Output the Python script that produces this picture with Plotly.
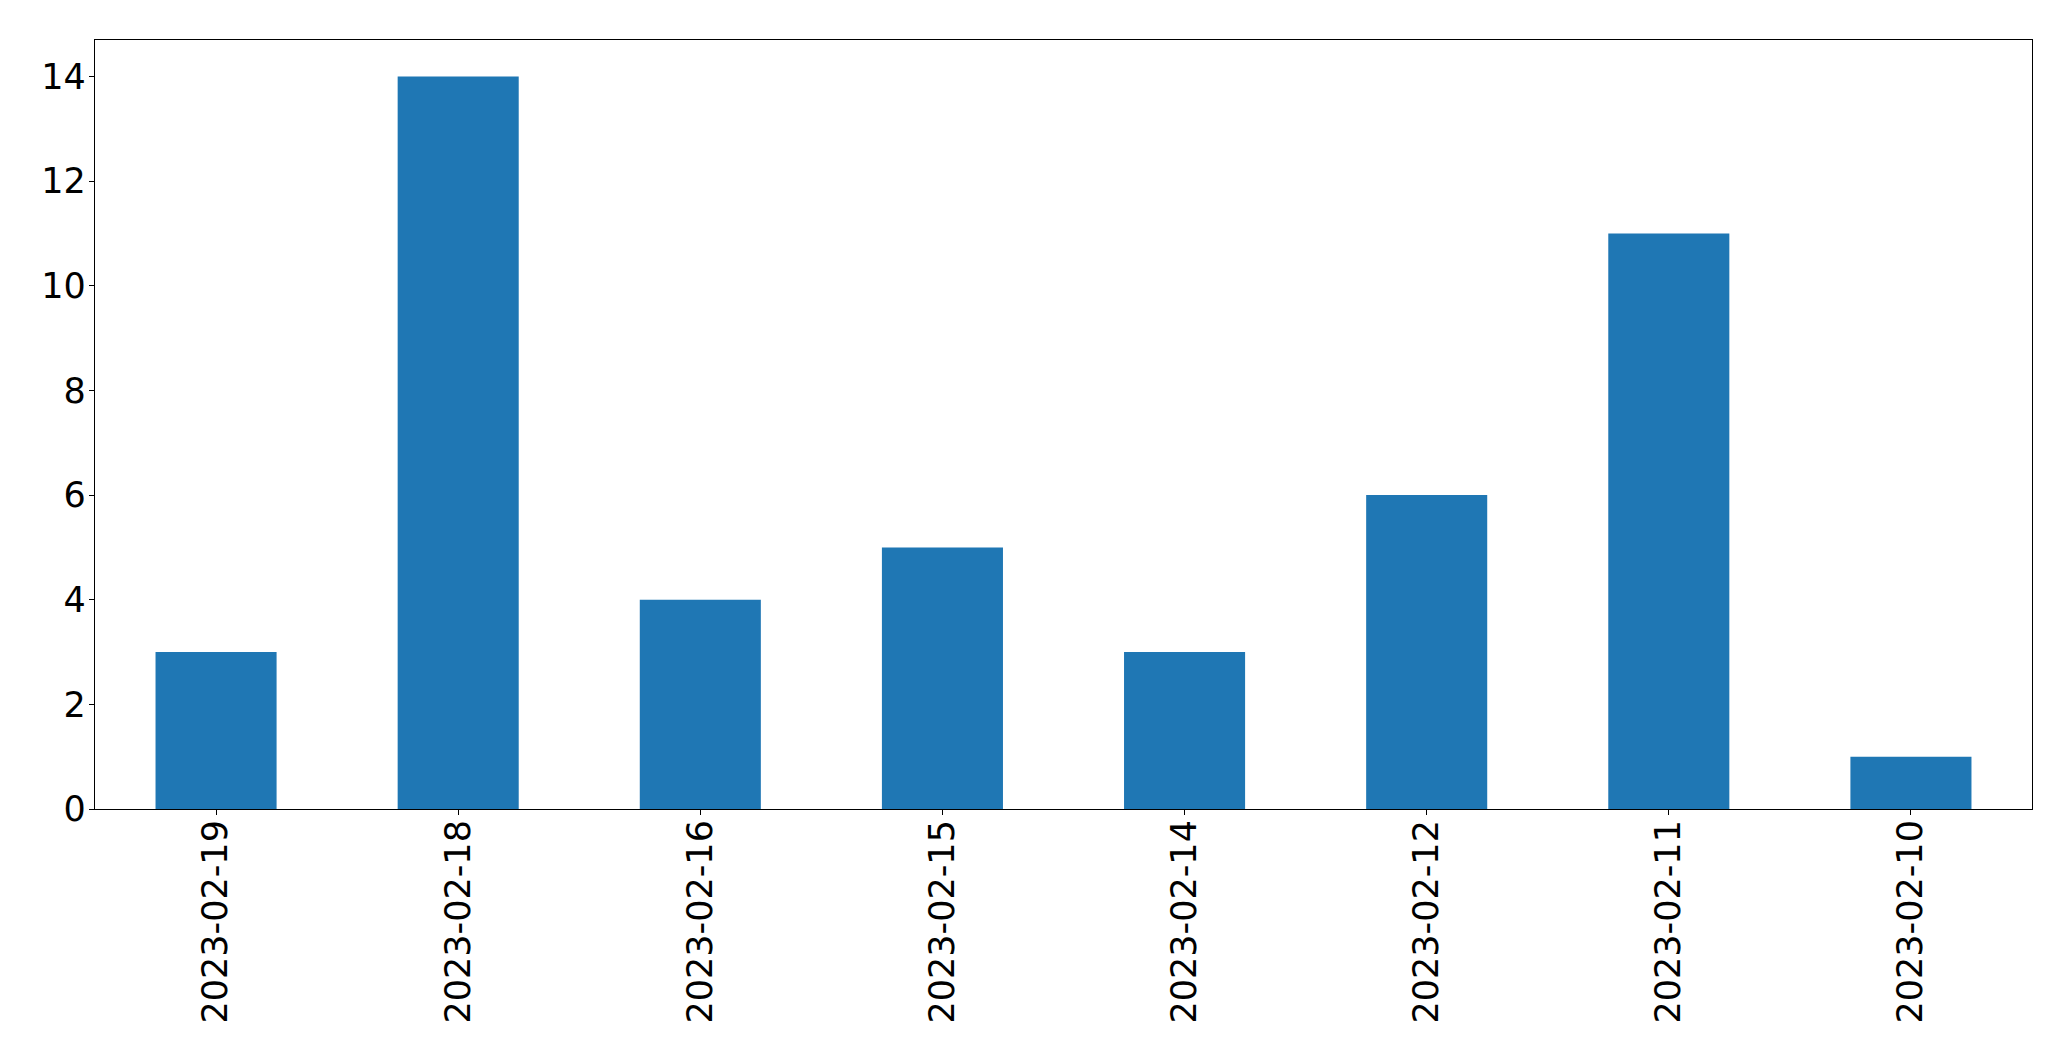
import plotly.graph_objects as go

dates = ["2023-02-19", "2023-02-18", "2023-02-16", "2023-02-15",
         "2023-02-14", "2023-02-12", "2023-02-11", "2023-02-10"]
counts = [3, 14, 4, 5, 3, 6, 11, 1]
y_ticks = [0, 2, 4, 6, 8, 10, 12, 14]

fig = go.Figure(go.Bar(x=dates, y=counts, width=0.5, marker=dict(color="#1f77b4", line=dict(width=0))))

font = dict(family="DejaVu Sans", size=35, color="black")
fig.update_layout(
    width=2071, height=1061,
    margin=dict(l=94.5, r=39, t=39.5, b=252),
    paper_bgcolor="white", plot_bgcolor="white",
    showlegend=False,
    font=font,
)
fig.update_xaxes(
    type="category", range=[-0.5, 7.5],
    showline=True, linecolor="black", linewidth=1.2, mirror=True,
    ticks="outside", ticklen=5, tickwidth=1.2, tickcolor="black",
    tickangle=-90, tickfont=font, showgrid=False, zeroline=False,
    ticklabelstandoff=-9,
)
fig.update_yaxes(
    range=[0, 14.7], tickvals=y_ticks,
    showline=True, linecolor="black", linewidth=1.2, mirror=True,
    ticks="outside", ticklen=5, tickwidth=1.2, tickcolor="black",
    tickfont=font, showgrid=False, zeroline=False,
    ticklabelstandoff=-4,
)
fig.write_html("out.html", config={"displayModeBar": False},
               post_script="document.body.style.margin='0';")
